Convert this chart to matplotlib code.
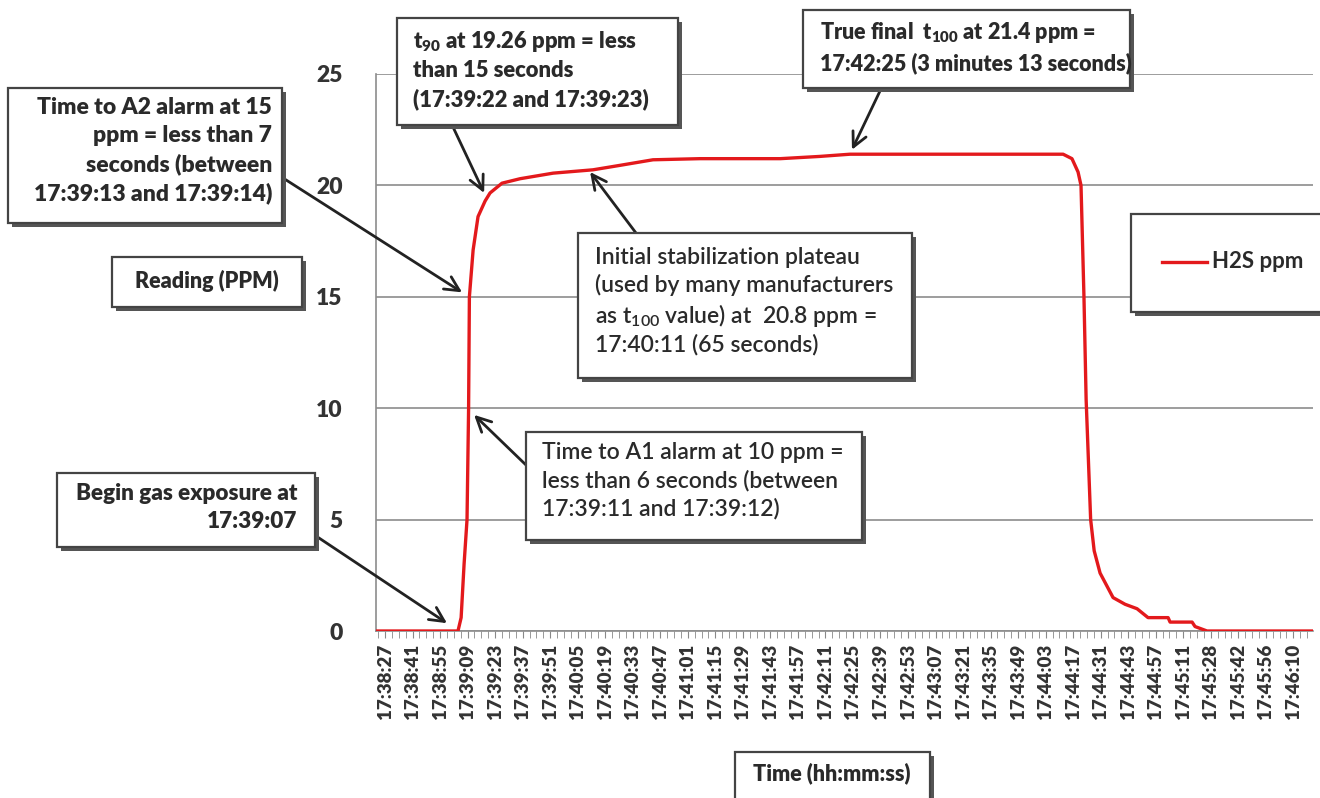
import matplotlib
matplotlib.use('Agg')
import matplotlib.pyplot as plt
from matplotlib.patches import Rectangle
from matplotlib.ticker import MultipleLocator

# %% Data (x = sample index from 17:38:27, one label every 14 samples).
t_idx = [-4.6, 37.1, 38.7, 40.2, 41.7, 42.5, 42.9, 44.8, 47.3, 50.9, 53.4, 59.5,
         68.7, 85.5, 105.8, 119.5, 136.3, 160.2, 201.0, 221.0, 236.5, 344.9,
         349.4, 352.5, 354.0, 355.5, 356.6, 358.9, 360.7, 363.7, 370.3, 376.4,
         382.5, 388.1, 398.3, 399.3, 410.5, 412.0, 418.1, 472.0]
ppm = [0, 0, 0.6, 3.0, 5.0, 10.0, 15.0, 17.1, 18.6, 19.3, 19.66, 20.1,
       20.3, 20.55, 20.7, 20.9, 21.15, 21.2, 21.2, 21.3, 21.4, 21.4,
       21.2, 20.6, 20.0, 15.0, 10.4, 5.0, 3.6, 2.6, 1.5, 1.2,
       1.0, 0.6, 0.6, 0.4, 0.4, 0.2, 0, 0]

tick_lbl = ['17:38:27', '17:38:41', '17:38:55', '17:39:09', '17:39:23', '17:39:37',
            '17:39:51', '17:40:05', '17:40:19', '17:40:33', '17:40:47', '17:41:01',
            '17:41:15', '17:41:29', '17:41:43', '17:41:57', '17:42:11', '17:42:25',
            '17:42:39', '17:42:53', '17:43:07', '17:43:21', '17:43:35', '17:43:49',
            '17:44:03', '17:44:17', '17:44:31', '17:44:43', '17:44:57', '17:45:11',
            '17:45:28', '17:45:42', '17:45:56', '17:46:10']
y_ticks = [0, 5, 10, 15, 20, 25]

# %% Fonts.
plt.rcParams['font.family'] = ['Lato', 'DejaVu Sans']
plt.rcParams['mathtext.fontset'] = 'custom'
plt.rcParams['mathtext.rm'] = 'Lato'
plt.rcParams['mathtext.bf'] = 'Lato:bold'
plt.rcParams['mathtext.default'] = 'regular'

W, H = 1320, 798
fig = plt.figure(figsize=(W / 100, H / 100), dpi=100)
fig.patch.set_facecolor('white')


def fx(x):
    return x / W


def fy(y):
    return 1 - y / H


# %% Axes.
ax = fig.add_axes([fx(376), fy(631), (1313 - 376) / W, (631 - 74) / H])
ax.plot(t_idx, ppm, color='#e3191c', lw=2.4, zorder=3, solid_joinstyle='round')
ax.set_xlim(-4.6, 472)
ax.set_ylim(0, 25)

ax.set_xticks([i * 14 for i in range(len(tick_lbl))])
ax.set_xticklabels(tick_lbl, rotation=90, fontsize=13.5, fontweight='heavy', color='#333333')
ax.xaxis.set_minor_locator(MultipleLocator(3.5))
ax.tick_params(axis='x', which='both', length=5, color='#888888', pad=4)
ax.set_yticks(y_ticks)
ax.set_yticklabels([str(v) for v in y_ticks], fontsize=16.5, fontweight='heavy', color='#333333')
ax.tick_params(axis='y', length=0, pad=24)

for s in ['top', 'right']:
    ax.spines[s].set_visible(False)
for s in ['left', 'bottom']:
    ax.spines[s].set_color('#8c8c8c')
    ax.spines[s].set_linewidth(1.2)
ax.grid(True, axis='y', color='#8c8c8c', lw=1.2)
ax.set_axisbelow(True)


# %% Boxes with shadow.
def box(x0, y0, x1, y1, sh=4):
    fig.patches.append(Rectangle((fx(x0 + sh), fy(y1 + sh)), (x1 - x0) / W, (y1 - y0) / H,
                                 transform=fig.transFigure, facecolor='#555555',
                                 edgecolor='none', zorder=5))
    fig.patches.append(Rectangle((fx(x0), fy(y1)), (x1 - x0) / W, (y1 - y0) / H,
                                 transform=fig.transFigure, facecolor='white',
                                 edgecolor='#444444', lw=1.6, zorder=6))


def txt(x, y, s, ha='left', weight='heavy', size=15.5, ls=1.4):
    fig.text(fx(x), fy(y), s, ha=ha, va='top', fontsize=size, fontweight=weight,
             color='#2a2a2a', linespacing=ls, zorder=7)


def arrow(xy, xytext):
    ax.annotate('', xy=xy, xycoords='data', xytext=(fx(xytext[0]), fy(xytext[1])),
                textcoords='figure fraction', annotation_clip=False,
                arrowprops=dict(arrowstyle='->', lw=2, color='#222222',
                                mutation_scale=26, shrinkA=0, shrinkB=0))


# t90
box(397, 18, 678, 125)
txt(413, 29, 't$_{90}$ at 19.26 ppm = less\nthan 15 seconds\n(17:39:22 and 17:39:23)',
    size=15.8, ls=1.38)
arrow((50.4, 19.66), (453, 127))

# True final t100
box(803, 10, 1130, 88)
txt(820, 20, 'True final  t$_{100}$ at 21.4 ppm =\n17:42:25 (3 minutes 13 seconds)')
arrow((237.5, 21.6), (880, 91))

# A2 alarm
box(8, 88, 282, 223)
txt(272, 97, 'Time to A2 alarm at 15\nppm = less than 7\nseconds (between\n17:39:13 and 17:39:14)',
    ha='right', size=16.5, ls=1.4)
arrow((39.2, 15.2), (283, 178))

# y label
box(112, 257, 302, 307)
txt(207, 270, 'Reading (PPM)', ha='center')

# Initial stabilization
box(578, 233, 912, 378)
txt(595, 247, 'Initial stabilization plateau\n(used by many manufacturers\n'
    'as t$_{100}$ value) at  20.8 ppm =\n17:40:11 (65 seconds)', weight='semibold',
    size=16.5, ls=1.3)
arrow((104.3, 20.6), (636, 233))

# A1 alarm
box(526, 432, 862, 540)
txt(542, 442, 'Time to A1 alarm at 10 ppm =\nless than 6 seconds (between\n17:39:11 and 17:39:12)',
    weight='semibold', size=16.5, ls=1.36)
arrow((45.3, 9.7), (526, 465))

# Begin gas exposure
box(57, 473, 315, 547)
txt(297, 483, 'Begin gas exposure at\n17:39:07', ha='right', size=16.2)
arrow((31.5, 0.35), (316, 536))

# x label
box(735, 752, 930, 812)
txt(832, 762, 'Time (hh:mm:ss)', ha='center')

# Legend
box(1131, 214, 1340, 312)
fig.add_artist(plt.Line2D([fx(1162), fx(1207)], [fy(262), fy(262)], transform=fig.transFigure,
                          color='#e3191c', lw=2.4, zorder=7))
fig.text(fx(1212), fy(262), 'H2S ppm', ha='left', va='center', fontsize=16,
         fontweight='bold', color='#2a2a2a', zorder=7)

fig.savefig('out.png', dpi=100)
